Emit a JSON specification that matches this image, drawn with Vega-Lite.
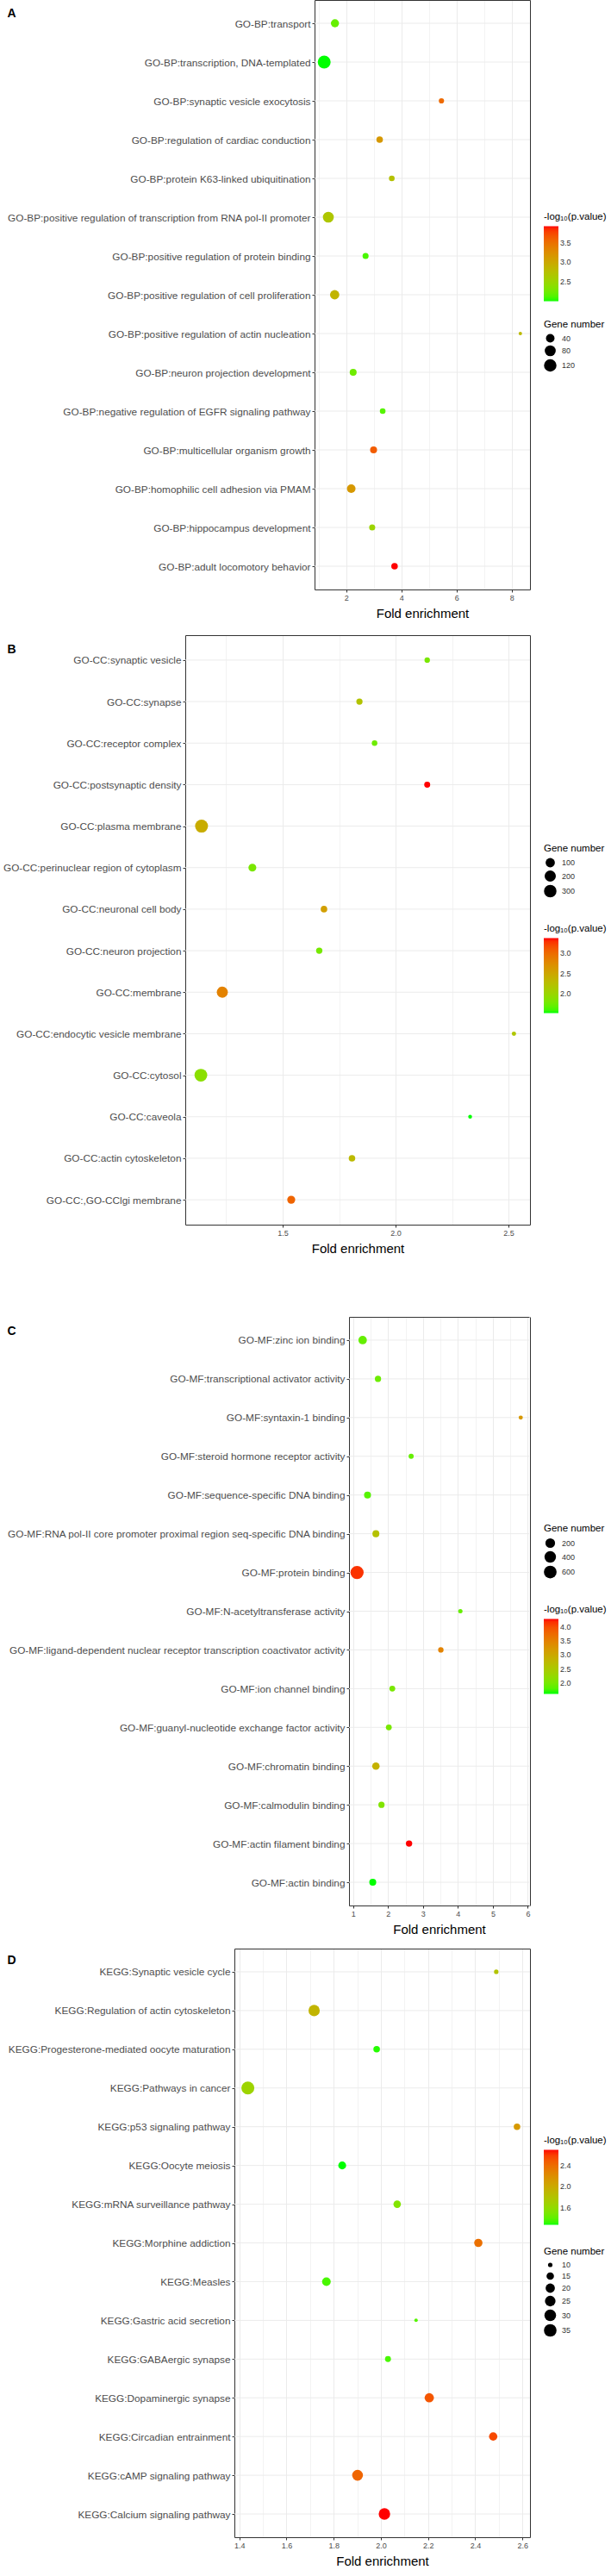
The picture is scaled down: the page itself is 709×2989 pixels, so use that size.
{
  "$schema": "https://vega.github.io/schema/vega-lite/v6.json",
  "padding": {"left": 0, "top": 0, "right": 0, "bottom": 0},
  "background": "white",
  "config": {
    "font": "Liberation Sans",
    "view": {"stroke": null},
    "axis": {"domain": false, "domainColor": "#333333", "domainWidth": 1, "tickColor": "#333333", "tickSize": 3, "labelColor": "#4d4d4d", "labelFont": "Liberation Sans", "titleFont": "Liberation Sans", "gridColor": "#ebebeb", "gridWidth": 1},
    "axisX": {"labelFontSize": 9, "labelPadding": 2, "titleFontSize": 15, "titleFontWeight": "normal", "titleColor": "#000000", "titlePadding": 6, "labelFlush": false},
    "axisY": {"labelFontSize": 11.8, "labelPadding": 2, "titleAngle": 0, "titleAlign": "left", "titleBaseline": "middle", "titleFontSize": 14, "titleFontWeight": "bold", "titleColor": "#000000"},
    "legend": {"titleFont": "Liberation Sans", "titleFontSize": 11.5, "titleFontWeight": "normal", "titleColor": "#000000", "labelFont": "Liberation Sans", "labelFontSize": 9, "labelColor": "#333333", "titlePadding": 5, "padding": 0, "symbolType": "circle", "symbolFillColor": "#000000", "symbolStrokeWidth": 0, "symbolOpacity": 1, "rowPadding": 3, "labelOffset": 6, "gradientStrokeWidth": 0, "labelOverlap": false}
  },
  "datasets": {
    "A": [
      {"term": "GO-BP:transport", "fold": 1.59, "logp": 2.18, "count": 35},
      {"term": "GO-BP:transcription, DNA-templated", "fold": 1.2, "logp": 1.98, "count": 134},
      {"term": "GO-BP:synaptic vesicle exocytosis", "fold": 5.45, "logp": 3.56, "count": 14},
      {"term": "GO-BP:regulation of cardiac conduction", "fold": 3.21, "logp": 3.16, "count": 21},
      {"term": "GO-BP:protein K63-linked ubiquitination", "fold": 3.65, "logp": 2.73, "count": 16},
      {"term": "GO-BP:positive regulation of transcription from RNA pol-II promoter", "fold": 1.35, "logp": 2.67, "count": 79},
      {"term": "GO-BP:positive regulation of protein binding", "fold": 2.7, "logp": 2.08, "count": 18},
      {"term": "GO-BP:positive regulation of cell proliferation", "fold": 1.58, "logp": 2.87, "count": 50},
      {"term": "GO-BP:positive regulation of actin nucleation", "fold": 8.31, "logp": 2.81, "count": 8},
      {"term": "GO-BP:neuron projection development", "fold": 2.25, "logp": 2.22, "count": 24},
      {"term": "GO-BP:negative regulation of EGFR signaling pathway", "fold": 3.32, "logp": 2.12, "count": 16},
      {"term": "GO-BP:multicellular organism growth", "fold": 2.99, "logp": 3.65, "count": 24},
      {"term": "GO-BP:homophilic cell adhesion via PMAM", "fold": 2.18, "logp": 3.16, "count": 40},
      {"term": "GO-BP:hippocampus development", "fold": 2.94, "logp": 2.51, "count": 18},
      {"term": "GO-BP:adult locomotory behavior", "fold": 3.75, "logp": 3.95, "count": 21}
    ],
    "B": [
      {"term": "GO-CC:synaptic vesicle", "fold": 2.14, "logp": 1.81, "count": 16},
      {"term": "GO-CC:synapse", "fold": 1.84, "logp": 2.21, "count": 25},
      {"term": "GO-CC:receptor complex", "fold": 1.907, "logp": 1.75, "count": 17},
      {"term": "GO-CC:postsynaptic density", "fold": 2.14, "logp": 3.38, "count": 22},
      {"term": "GO-CC:plasma membrane", "fold": 1.141, "logp": 2.45, "count": 340},
      {"term": "GO-CC:perinuclear region of cytoplasm", "fold": 1.366, "logp": 1.81, "count": 55},
      {"term": "GO-CC:neuronal cell body", "fold": 1.683, "logp": 2.58, "count": 29},
      {"term": "GO-CC:neuron projection", "fold": 1.662, "logp": 1.79, "count": 26},
      {"term": "GO-CC:membrane", "fold": 1.233, "logp": 2.83, "count": 190},
      {"term": "GO-CC:endocytic vesicle membrane", "fold": 2.524, "logp": 2.18, "count": 8},
      {"term": "GO-CC:cytosol", "fold": 1.138, "logp": 1.9, "count": 326},
      {"term": "GO-CC:caveola", "fold": 2.33, "logp": 1.53, "count": 6},
      {"term": "GO-CC:actin cytoskeleton", "fold": 1.807, "logp": 2.31, "count": 29},
      {"term": "GO-CC:,GO-CClgi membrane", "fold": 1.538, "logp": 3.05, "count": 58}
    ],
    "C": [
      {"term": "GO-MF:zinc ion binding", "fold": 1.27, "logp": 1.87, "count": 115},
      {"term": "GO-MF:transcriptional activator activity", "fold": 1.71, "logp": 1.92, "count": 35},
      {"term": "GO-MF:syntaxin-1 binding", "fold": 5.8, "logp": 3.22, "count": 7},
      {"term": "GO-MF:steroid hormone receptor activity", "fold": 2.66, "logp": 1.87, "count": 15},
      {"term": "GO-MF:sequence-specific DNA binding", "fold": 1.41, "logp": 1.79, "count": 53},
      {"term": "GO-MF:RNA pol-II core promoter proximal region seq-specific DNA binding", "fold": 1.65, "logp": 2.63, "count": 53},
      {"term": "GO-MF:protein binding", "fold": 1.11, "logp": 4.17, "count": 700},
      {"term": "GO-MF:N-acetyltransferase activity", "fold": 4.07, "logp": 1.87, "count": 8},
      {"term": "GO-MF:ligand-dependent nuclear receptor transcription coactivator activity", "fold": 3.51, "logp": 3.49, "count": 20},
      {"term": "GO-MF:ion channel binding", "fold": 2.12, "logp": 2.0, "count": 27},
      {"term": "GO-MF:guanyl-nucleotide exchange factor activity", "fold": 2.02, "logp": 2.0, "count": 27},
      {"term": "GO-MF:chromatin binding", "fold": 1.65, "logp": 2.87, "count": 71},
      {"term": "GO-MF:calmodulin binding", "fold": 1.81, "logp": 2.06, "count": 34},
      {"term": "GO-MF:actin filament binding", "fold": 2.6, "logp": 4.3, "count": 38},
      {"term": "GO-MF:actin binding", "fold": 1.56, "logp": 1.6, "count": 53}
    ],
    "D": [
      {"term": "KEGG:Synaptic vesicle cycle", "fold": 2.489, "logp": 1.8, "count": 10},
      {"term": "KEGG:Regulation of actin cytoskeleton", "fold": 1.717, "logp": 1.92, "count": 28},
      {"term": "KEGG:Progesterone-mediated oocyte maturation", "fold": 1.982, "logp": 1.29, "count": 13},
      {"term": "KEGG:Pathways in cancer", "fold": 1.436, "logp": 1.66, "count": 37},
      {"term": "KEGG:p53 signaling pathway", "fold": 2.577, "logp": 2.13, "count": 13},
      {"term": "KEGG:Oocyte meiosis", "fold": 1.836, "logp": 1.27, "count": 16},
      {"term": "KEGG:mRNA surveillance pathway", "fold": 2.069, "logp": 1.52, "count": 15},
      {"term": "KEGG:Morphine addiction", "fold": 2.413, "logp": 2.39, "count": 17},
      {"term": "KEGG:Measles", "fold": 1.769, "logp": 1.34, "count": 18},
      {"term": "KEGG:Gastric acid secretion", "fold": 2.149, "logp": 1.37, "count": 9},
      {"term": "KEGG:GABAergic synapse", "fold": 2.03, "logp": 1.34, "count": 12},
      {"term": "KEGG:Dopaminergic synapse", "fold": 2.205, "logp": 2.52, "count": 20},
      {"term": "KEGG:Circadian entrainment", "fold": 2.476, "logp": 2.57, "count": 17},
      {"term": "KEGG:cAMP signaling pathway", "fold": 1.901, "logp": 2.45, "count": 26},
      {"term": "KEGG:Calcium signaling pathway", "fold": 2.015, "logp": 2.71, "count": 29}
    ]
  },
  "concat": [
    {
      "concat": [
        {
          "data": {"name": "A"},
          "width": 615,
          "height": 684,
          "layer": [
            {
              "mark": {"type": "rule", "color": "#ebebeb", "strokeWidth": 1},
              "encoding": {
                "y": {"field": "term", "type": "nominal", "axis": null,
                  "sort": ["GO-BP:transport", "GO-BP:transcription, DNA-templated", "GO-BP:synaptic vesicle exocytosis", "GO-BP:regulation of cardiac conduction", "GO-BP:protein K63-linked ubiquitination", "GO-BP:positive regulation of transcription from RNA pol-II promoter", "GO-BP:positive regulation of protein binding", "GO-BP:positive regulation of cell proliferation", "GO-BP:positive regulation of actin nucleation", "GO-BP:neuron projection development", "GO-BP:negative regulation of EGFR signaling pathway", "GO-BP:multicellular organism growth", "GO-BP:homophilic cell adhesion via PMAM", "GO-BP:hippocampus development", "GO-BP:adult locomotory behavior"]},
                "x": {"datum": 0.85, "type": "quantitative", "axis": null},
                "x2": {"datum": 8.66}
              }
            },
            {
              "mark": {"type": "circle", "opacity": 1},
              "encoding": {
                "x": {"field": "fold", "type": "quantitative",
                  "scale": {"domain": [0.85, 8.66], "range": [365, 615], "nice": false, "zero": false},
                  "axis": {"orient": "bottom", "title": "Fold enrichment", "domain": true, "grid": true, "values": [1, 2, 3, 4, 5, 6, 7, 8],
                    "labelExpr": "datum.value % 2 === 0 ? datum.label : ''",
                    "tickOpacity": {"condition": {"test": "datum.value % 2 === 0", "value": 1}, "value": 0},
                    "gridWidth": {"condition": {"test": "datum.value % 2 === 0", "value": 1}, "value": 0.6}}},
                "y": {"field": "term", "type": "nominal",
                  "sort": ["GO-BP:transport", "GO-BP:transcription, DNA-templated", "GO-BP:synaptic vesicle exocytosis", "GO-BP:regulation of cardiac conduction", "GO-BP:protein K63-linked ubiquitination", "GO-BP:positive regulation of transcription from RNA pol-II promoter", "GO-BP:positive regulation of protein binding", "GO-BP:positive regulation of cell proliferation", "GO-BP:positive regulation of actin nucleation", "GO-BP:neuron projection development", "GO-BP:negative regulation of EGFR signaling pathway", "GO-BP:multicellular organism growth", "GO-BP:homophilic cell adhesion via PMAM", "GO-BP:hippocampus development", "GO-BP:adult locomotory behavior"],
                  "scale": {"type": "point", "padding": 0.6},
                  "axis": {"orient": "left", "title": null, "offset": -365, "domain": true, "grid": false, "labelLimit": 360}},
                "color": {"field": "logp", "type": "quantitative",
                  "scale": {"domain": [1.98, 3.95], "range": ["#00ff00", "#ff0000"], "interpolate": "lab", "nice": false, "zero": false},
                  "legend": {"title": "-log\u2081\u2080(p.value)", "orient": "none", "legendX": 631, "legendY": 246, "direction": "vertical", "gradientLength": 87, "gradientThickness": 17, "values": [2.5, 3.0, 3.5], "format": ".1f"}},
                "size": {"field": "count", "type": "quantitative",
                  "scale": {"type": "sqrt", "domain": [8, 135], "range": [16, 225], "zero": false, "nice": false},
                  "legend": {"title": "Gene number", "orient": "none", "legendX": 631, "legendY": 371, "values": [40, 80, 120], "symbolFillColor": "#000000"}}
              }
            },
            {
              "mark": {"type": "circle", "opacity": 0},
              "encoding": {
                "x": {"field": "fold", "type": "quantitative", "axis": {"orient": "top", "title": null, "labels": false, "ticks": false, "grid": false, "domain": true}},
                "y": {"field": "term", "type": "nominal",
                  "sort": ["GO-BP:transport", "GO-BP:transcription, DNA-templated", "GO-BP:synaptic vesicle exocytosis", "GO-BP:regulation of cardiac conduction", "GO-BP:protein K63-linked ubiquitination", "GO-BP:positive regulation of transcription from RNA pol-II promoter", "GO-BP:positive regulation of protein binding", "GO-BP:positive regulation of cell proliferation", "GO-BP:positive regulation of actin nucleation", "GO-BP:neuron projection development", "GO-BP:negative regulation of EGFR signaling pathway", "GO-BP:multicellular organism growth", "GO-BP:homophilic cell adhesion via PMAM", "GO-BP:hippocampus development", "GO-BP:adult locomotory behavior"],
                  "axis": {"orient": "right", "title": "A", "titleX": -607, "titleY": 15, "labels": false, "ticks": false, "grid": false, "domain": true}}
              }
            }
          ],
          "resolve": {"axis": {"x": "independent", "y": "independent"}}
        },
        {
          "data": {"name": "B"},
          "width": 615,
          "height": 684,
          "layer": [
            {
              "mark": {"type": "rule", "color": "#ebebeb", "strokeWidth": 1},
              "encoding": {
                "y": {"field": "term", "type": "nominal", "axis": null,
                  "sort": ["GO-CC:synaptic vesicle", "GO-CC:synapse", "GO-CC:receptor complex", "GO-CC:postsynaptic density", "GO-CC:plasma membrane", "GO-CC:perinuclear region of cytoplasm", "GO-CC:neuronal cell body", "GO-CC:neuron projection", "GO-CC:membrane", "GO-CC:endocytic vesicle membrane", "GO-CC:cytosol", "GO-CC:caveola", "GO-CC:actin cytoskeleton", "GO-CC:,GO-CClgi membrane"]},
                "x": {"datum": 1.069, "type": "quantitative", "axis": null},
                "x2": {"datum": 2.595}
              }
            },
            {
              "mark": {"type": "circle", "opacity": 1},
              "encoding": {
                "x": {"field": "fold", "type": "quantitative",
                  "scale": {"domain": [1.069, 2.595], "range": [215, 615], "nice": false, "zero": false},
                  "axis": {"orient": "bottom", "title": "Fold enrichment", "domain": true, "grid": true, "values": [1.25, 1.5, 1.75, 2.0, 2.25, 2.5],
                    "labelExpr": "abs(datum.value*2 - round(datum.value*2)) < 0.001 ? format(datum.value, '.1f') : ''",
                    "tickOpacity": {"condition": {"test": "abs(datum.value*2 - round(datum.value*2)) < 0.001", "value": 1}, "value": 0},
                    "gridWidth": {"condition": {"test": "abs(datum.value*2 - round(datum.value*2)) < 0.001", "value": 1}, "value": 0.6}}},
                "y": {"field": "term", "type": "nominal",
                  "sort": ["GO-CC:synaptic vesicle", "GO-CC:synapse", "GO-CC:receptor complex", "GO-CC:postsynaptic density", "GO-CC:plasma membrane", "GO-CC:perinuclear region of cytoplasm", "GO-CC:neuronal cell body", "GO-CC:neuron projection", "GO-CC:membrane", "GO-CC:endocytic vesicle membrane", "GO-CC:cytosol", "GO-CC:caveola", "GO-CC:actin cytoskeleton", "GO-CC:,GO-CClgi membrane"],
                  "scale": {"type": "point", "padding": 0.6},
                  "axis": {"orient": "left", "title": null, "offset": -215, "domain": true, "grid": false, "labelLimit": 211}},
                "color": {"field": "logp", "type": "quantitative",
                  "scale": {"domain": [1.53, 3.38], "range": ["#00ff00", "#ff0000"], "interpolate": "lab", "nice": false, "zero": false},
                  "legend": {"title": "-log\u2081\u2080(p.value)", "orient": "none", "legendX": 631, "legendY": 335, "direction": "vertical", "gradientLength": 87, "gradientThickness": 17, "values": [2.0, 2.5, 3.0], "format": ".1f"}},
                "size": {"field": "count", "type": "quantitative",
                  "scale": {"type": "sqrt", "domain": [6, 340], "range": [20, 225], "zero": false, "nice": false},
                  "legend": {"title": "Gene number", "orient": "none", "legendX": 631, "legendY": 242, "values": [100, 200, 300], "symbolFillColor": "#000000"}}
              }
            },
            {
              "mark": {"type": "circle", "opacity": 0},
              "encoding": {
                "x": {"field": "fold", "type": "quantitative", "axis": {"orient": "top", "title": null, "labels": false, "ticks": false, "grid": false, "domain": true}},
                "y": {"field": "term", "type": "nominal",
                  "sort": ["GO-CC:synaptic vesicle", "GO-CC:synapse", "GO-CC:receptor complex", "GO-CC:postsynaptic density", "GO-CC:plasma membrane", "GO-CC:perinuclear region of cytoplasm", "GO-CC:neuronal cell body", "GO-CC:neuron projection", "GO-CC:membrane", "GO-CC:endocytic vesicle membrane", "GO-CC:cytosol", "GO-CC:caveola", "GO-CC:actin cytoskeleton", "GO-CC:,GO-CClgi membrane"],
                  "axis": {"orient": "right", "title": "B", "titleX": -607, "titleY": 16, "labels": false, "ticks": false, "grid": false, "domain": true}}
              }
            }
          ],
          "resolve": {"axis": {"x": "independent", "y": "independent"}}
        }
      ],
      "columns": 1,
      "spacing": 18,
      "resolve": {"scale": {"x": "independent", "y": "independent", "color": "independent", "size": "independent"}}
    },
    {
      "concat": [
        {
          "data": {"name": "C"},
          "width": 615,
          "height": 683,
          "layer": [
            {
              "mark": {"type": "rule", "color": "#ebebeb", "strokeWidth": 1},
              "encoding": {
                "y": {"field": "term", "type": "nominal", "axis": null,
                  "sort": ["GO-MF:zinc ion binding", "GO-MF:transcriptional activator activity", "GO-MF:syntaxin-1 binding", "GO-MF:steroid hormone receptor activity", "GO-MF:sequence-specific DNA binding", "GO-MF:RNA pol-II core promoter proximal region seq-specific DNA binding", "GO-MF:protein binding", "GO-MF:N-acetyltransferase activity", "GO-MF:ligand-dependent nuclear receptor transcription coactivator activity", "GO-MF:ion channel binding", "GO-MF:guanyl-nucleotide exchange factor activity", "GO-MF:chromatin binding", "GO-MF:calmodulin binding", "GO-MF:actin filament binding", "GO-MF:actin binding"]},
                "x": {"datum": 0.88, "type": "quantitative", "axis": null},
                "x2": {"datum": 6.04}
              }
            },
            {
              "mark": {"type": "circle", "opacity": 1},
              "encoding": {
                "x": {"field": "fold", "type": "quantitative",
                  "scale": {"domain": [0.88, 6.04], "range": [405, 614], "nice": false, "zero": false},
                  "axis": {"orient": "bottom", "title": "Fold enrichment", "domain": true, "grid": true, "values": [1, 1.5, 2, 2.5, 3, 3.5, 4, 4.5, 5, 5.5, 6],
                    "labelExpr": "abs(datum.value - round(datum.value)) < 0.001 ? format(datum.value, 'd') : ''",
                    "tickOpacity": {"condition": {"test": "abs(datum.value - round(datum.value)) < 0.001", "value": 1}, "value": 0},
                    "gridWidth": {"condition": {"test": "abs(datum.value - round(datum.value)) < 0.001", "value": 1}, "value": 0.6}}},
                "y": {"field": "term", "type": "nominal",
                  "sort": ["GO-MF:zinc ion binding", "GO-MF:transcriptional activator activity", "GO-MF:syntaxin-1 binding", "GO-MF:steroid hormone receptor activity", "GO-MF:sequence-specific DNA binding", "GO-MF:RNA pol-II core promoter proximal region seq-specific DNA binding", "GO-MF:protein binding", "GO-MF:N-acetyltransferase activity", "GO-MF:ligand-dependent nuclear receptor transcription coactivator activity", "GO-MF:ion channel binding", "GO-MF:guanyl-nucleotide exchange factor activity", "GO-MF:chromatin binding", "GO-MF:calmodulin binding", "GO-MF:actin filament binding", "GO-MF:actin binding"],
                  "scale": {"type": "point", "padding": 0.6},
                  "axis": {"orient": "left", "title": null, "offset": -405, "domain": true, "grid": false, "labelLimit": 401}},
                "color": {"field": "logp", "type": "quantitative",
                  "scale": {"domain": [1.6, 4.3], "range": ["#00ff00", "#ff0000"], "interpolate": "lab", "nice": false, "zero": false},
                  "legend": {"title": "-log\u2081\u2080(p.value)", "orient": "none", "legendX": 631, "legendY": 334, "direction": "vertical", "gradientLength": 87, "gradientThickness": 17, "values": [2.0, 2.5, 3.0, 3.5, 4.0], "format": ".1f"}},
                "size": {"field": "count", "type": "quantitative",
                  "scale": {"type": "sqrt", "domain": [5, 700], "range": [20, 235], "zero": false, "nice": false},
                  "legend": {"title": "Gene number", "orient": "none", "legendX": 631, "legendY": 240, "values": [200, 400, 600], "symbolFillColor": "#000000"}}
              }
            },
            {
              "mark": {"type": "circle", "opacity": 0},
              "encoding": {
                "x": {"field": "fold", "type": "quantitative", "axis": {"orient": "top", "title": null, "labels": false, "ticks": false, "grid": false, "domain": true}},
                "y": {"field": "term", "type": "nominal",
                  "sort": ["GO-MF:zinc ion binding", "GO-MF:transcriptional activator activity", "GO-MF:syntaxin-1 binding", "GO-MF:steroid hormone receptor activity", "GO-MF:sequence-specific DNA binding", "GO-MF:RNA pol-II core promoter proximal region seq-specific DNA binding", "GO-MF:protein binding", "GO-MF:N-acetyltransferase activity", "GO-MF:ligand-dependent nuclear receptor transcription coactivator activity", "GO-MF:ion channel binding", "GO-MF:guanyl-nucleotide exchange factor activity", "GO-MF:chromatin binding", "GO-MF:calmodulin binding", "GO-MF:actin filament binding", "GO-MF:actin binding"],
                  "axis": {"orient": "right", "title": "C", "titleX": -607, "titleY": 16, "labels": false, "ticks": false, "grid": false, "domain": true}}
              }
            }
          ],
          "resolve": {"axis": {"x": "independent", "y": "independent"}}
        },
        {
          "data": {"name": "D"},
          "width": 615,
          "height": 683,
          "layer": [
            {
              "mark": {"type": "rule", "color": "#ebebeb", "strokeWidth": 1},
              "encoding": {
                "y": {"field": "term", "type": "nominal", "axis": null,
                  "sort": ["KEGG:Synaptic vesicle cycle", "KEGG:Regulation of actin cytoskeleton", "KEGG:Progesterone-mediated oocyte maturation", "KEGG:Pathways in cancer", "KEGG:p53 signaling pathway", "KEGG:Oocyte meiosis", "KEGG:mRNA surveillance pathway", "KEGG:Morphine addiction", "KEGG:Measles", "KEGG:Gastric acid secretion", "KEGG:GABAergic synapse", "KEGG:Dopaminergic synapse", "KEGG:Circadian entrainment", "KEGG:cAMP signaling pathway", "KEGG:Calcium signaling pathway"]},
                "x": {"datum": 1.379, "type": "quantitative", "axis": null},
                "x2": {"datum": 2.632}
              }
            },
            {
              "mark": {"type": "circle", "opacity": 1},
              "encoding": {
                "x": {"field": "fold", "type": "quantitative",
                  "scale": {"domain": [1.379, 2.632], "range": [272, 615], "nice": false, "zero": false},
                  "axis": {"orient": "bottom", "title": "Fold enrichment", "domain": true, "grid": true, "values": [1.4, 1.5, 1.6, 1.7, 1.8, 1.9, 2.0, 2.1, 2.2, 2.3, 2.4, 2.5, 2.6],
                    "labelExpr": "abs(datum.value*5 - round(datum.value*5)) < 0.001 ? format(datum.value, '.1f') : ''",
                    "tickOpacity": {"condition": {"test": "abs(datum.value*5 - round(datum.value*5)) < 0.001", "value": 1}, "value": 0},
                    "gridWidth": {"condition": {"test": "abs(datum.value*5 - round(datum.value*5)) < 0.001", "value": 1}, "value": 0.6}}},
                "y": {"field": "term", "type": "nominal",
                  "sort": ["KEGG:Synaptic vesicle cycle", "KEGG:Regulation of actin cytoskeleton", "KEGG:Progesterone-mediated oocyte maturation", "KEGG:Pathways in cancer", "KEGG:p53 signaling pathway", "KEGG:Oocyte meiosis", "KEGG:mRNA surveillance pathway", "KEGG:Morphine addiction", "KEGG:Measles", "KEGG:Gastric acid secretion", "KEGG:GABAergic synapse", "KEGG:Dopaminergic synapse", "KEGG:Circadian entrainment", "KEGG:cAMP signaling pathway", "KEGG:Calcium signaling pathway"],
                  "scale": {"type": "point", "padding": 0.6},
                  "axis": {"orient": "left", "title": null, "offset": -272, "domain": true, "grid": false, "labelLimit": 268}},
                "color": {"field": "logp", "type": "quantitative",
                  "scale": {"domain": [1.27, 2.71], "range": ["#00ff00", "#ff0000"], "interpolate": "lab", "nice": false, "zero": false},
                  "legend": {"title": "-log\u2081\u2080(p.value)", "orient": "none", "legendX": 631, "legendY": 217, "direction": "vertical", "gradientLength": 87, "gradientThickness": 17, "values": [1.6, 2.0, 2.4], "format": ".1f"}},
                "size": {"field": "count", "type": "quantitative",
                  "scale": {"type": "sqrt", "domain": [9, 37], "range": [16, 225], "zero": false, "nice": false},
                  "legend": {"title": "Gene number", "orient": "none", "legendX": 631, "legendY": 346, "values": [10, 15, 20, 25, 30, 35], "symbolFillColor": "#000000"}}
              }
            },
            {
              "mark": {"type": "circle", "opacity": 0},
              "encoding": {
                "x": {"field": "fold", "type": "quantitative", "axis": {"orient": "top", "title": null, "labels": false, "ticks": false, "grid": false, "domain": true}},
                "y": {"field": "term", "type": "nominal",
                  "sort": ["KEGG:Synaptic vesicle cycle", "KEGG:Regulation of actin cytoskeleton", "KEGG:Progesterone-mediated oocyte maturation", "KEGG:Pathways in cancer", "KEGG:p53 signaling pathway", "KEGG:Oocyte meiosis", "KEGG:mRNA surveillance pathway", "KEGG:Morphine addiction", "KEGG:Measles", "KEGG:Gastric acid secretion", "KEGG:GABAergic synapse", "KEGG:Dopaminergic synapse", "KEGG:Circadian entrainment", "KEGG:cAMP signaling pathway", "KEGG:Calcium signaling pathway"],
                  "axis": {"orient": "right", "title": "D", "titleX": -607, "titleY": 13, "labels": false, "ticks": false, "grid": false, "domain": true}}
              }
            }
          ],
          "resolve": {"axis": {"x": "independent", "y": "independent"}}
        }
      ],
      "columns": 1,
      "spacing": 15,
      "resolve": {"scale": {"x": "independent", "y": "independent", "color": "independent", "size": "independent"}}
    }
  ],
  "columns": 1,
  "spacing": 72,
  "resolve": {"scale": {"x": "independent", "y": "independent", "color": "independent", "size": "independent"}}
}
